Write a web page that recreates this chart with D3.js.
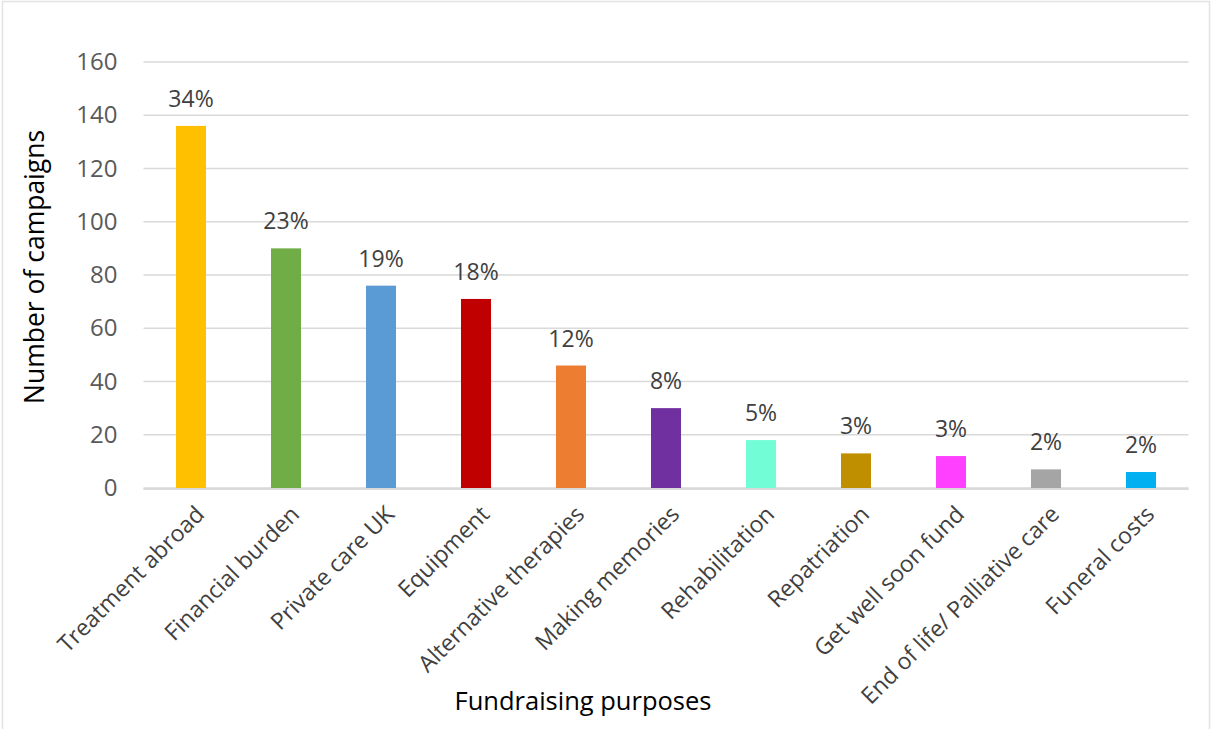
<!DOCTYPE html>
<html><head><meta charset="utf-8">
<script src="https://cdn.jsdelivr.net/npm/d3@7"></script>
<style>html,body{margin:0;padding:0;background:#fff;}svg{display:block;font-family:"Open Sans",Carlito,Calibri,sans-serif;}</style>
</head><body>
<svg id="chart" width="1212" height="729"></svg>
<script>
const categories = ["Treatment abroad","Financial burden","Private care UK","Equipment","Alternative therapies","Making memories","Rehabilitation","Repatriation","Get well soon fund","End of life/ Palliative care","Funeral costs"];
const values = [136, 90, 76, 71, 46, 30, 18, 13, 12, 7, 6];
const percentLabels = ["34%","23%","19%","18%","12%","8%","5%","3%","3%","2%","2%"];
const colors = ["#FFC000","#70AD47","#5B9BD5","#C00000","#ED7D31","#7030A0","#73FDD6","#BF8F00","#FF40FF","#A5A5A5","#00B0F0"];
const yTicks = [0,20,40,60,80,100,120,140,160];
const yTitle = "Number of campaigns";
const xTitle = "Fundraising purposes";

(function(){
const svg = d3.select("#chart");
svg.append("rect").attr("x",2.5).attr("y",1.5).attr("width",1207).attr("height",740)
  .attr("fill","none").attr("stroke","#e3e3e3").attr("stroke-width",1.5);

const pLeft = 143.5, pRight = 1188.5, pTop = 62, pBottom = 488;
const x = d3.scaleBand().domain(categories).range([pLeft,pRight]).paddingInner(0.684).paddingOuter(0.342);
const y = d3.scaleLinear().domain([0,160]).range([pBottom,pTop]);

svg.append("g").selectAll("line").data(yTicks).join("line")
  .attr("x1",pLeft).attr("x2",pRight).attr("y1",d=>y(d)).attr("y2",d=>y(d))
  .attr("stroke","#d9d9d9").attr("stroke-width",1.5);

const yAxis = d3.axisLeft(y).tickValues(yTicks).tickSize(0).tickPadding(26);
const gy = svg.append("g").attr("transform",`translate(${pLeft},0)`).call(yAxis);
gy.select(".domain").remove();
gy.selectAll("text").attr("font-size",24).attr("fill","#595959").attr("font-family","'Open Sans',sans-serif");

svg.append("g").selectAll("rect").data(values).join("rect")
  .attr("x",(d,i)=>x(categories[i])).attr("width",x.bandwidth())
  .attr("y",d=>y(d)).attr("height",d=>pBottom-y(d))
  .attr("fill",(d,i)=>colors[i]);

svg.append("line").attr("x1",pLeft).attr("x2",pRight).attr("y1",pBottom+1).attr("y2",pBottom+1)
  .attr("stroke","#d9d9d9").attr("stroke-width",2);

svg.append("g").selectAll("text").data(values).join("text")
  .attr("x",(d,i)=>x(categories[i])+x.bandwidth()/2)
  .attr("y",d=>y(d)-19)
  .attr("text-anchor","middle").attr("font-size",23).attr("fill","#404040")
  .text((d,i)=>percentLabels[i]);

const xAxis = d3.axisBottom(x).tickSize(0).tickPadding(0);
const gx = svg.append("g").attr("transform",`translate(0,${pBottom})`).call(xAxis);
gx.select(".domain").remove();
gx.selectAll("text")
  .attr("font-size",23).attr("fill","#404040").attr("font-family","'Open Sans',sans-serif")
  .attr("text-anchor","end")
  .attr("transform","translate(9,22) rotate(-45)")
  .attr("dy","0.35em").attr("y",0).attr("x",0);

svg.append("text").attr("transform","translate(35,267) rotate(-90)")
  .attr("text-anchor","middle").attr("dy","0.35em").attr("font-size",26.5).attr("fill","#000")
  .text(yTitle);
svg.append("text").attr("x",583).attr("y",710).attr("text-anchor","middle")
  .attr("font-size",25.5).attr("fill","#000").text(xTitle);
})();
</script>
</body></html>
